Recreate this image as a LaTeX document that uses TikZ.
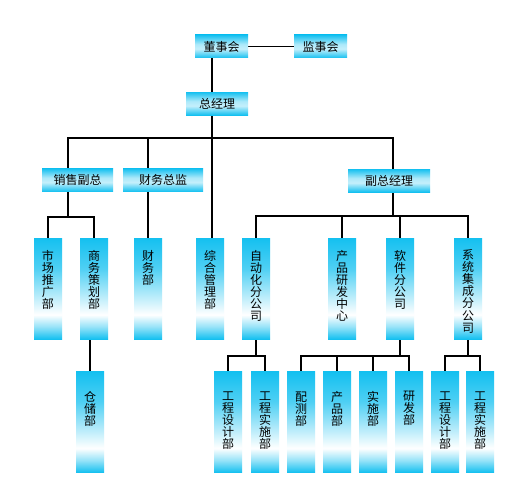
\documentclass[tikz,border=0pt]{standalone}
\usepackage{fontspec}
\setmainfont{Noto Sans CJK SC}
\usepackage{xcolor}
\usepackage{tikz}
\usetikzlibrary{backgrounds}

\definecolor{cy}{RGB}{20,192,240}
\pgfdeclareverticalshading{vshade}{100bp}{color(0bp)=(cy); color(25bp)=(cy); color(31bp)=(cy!45); color(37bp)=(white); color(60bp)=(cy!75); color(75bp)=(cy); color(100bp)=(cy)}
\pgfdeclareverticalshading{hshade}{100bp}{color(0bp)=(cy); color(25bp)=(cy); color(45bp)=(cy!25); color(55bp)=(cy!35); color(75bp)=(cy); color(100bp)=(cy)}
\newcommand{\vtxt}[2][12pt]{\parbox[c][101pt][t]{28pt}{\centering\vspace*{#1}#2}}

\begin{document}
\begin{tikzpicture}[x=1pt,y=-1pt,
  every node/.style={font=\fontsize{12}{12}\selectfont,inner sep=0pt},
  hbox/.style={shading=hshade,minimum height=23pt},
  vbox/.style={shading=vshade},
  conn/.style={line width=1.1pt}]
  \useasboundingbox (0,0) rectangle (519,503);
  \node[hbox,minimum width=53pt] (dongshi) at (221.5,46.5) {董事会};
  \node[hbox,minimum width=53pt] (jianshi) at (320.5,46.5) {监事会};
  \node[hbox,minimum width=62pt] (zong) at (217,103.5) {总经理};
  \node[hbox,minimum width=71pt] (xiaoshou) at (77.5,180) {销售副总};
  \node[hbox,minimum width=80pt] (caiwu) at (163,180) {财务总监};
  \node[hbox,minimum width=82pt] (fuzong) at (389,180.5) {副总经理};

  \node[vbox] (shichang) at (48,288.5) {\vtxt{市\\场\\推\\广\\部}};
  \node[vbox] (shangwu) at (94,288.5) {\vtxt{商\\务\\策\\划\\部}};
  \node[vbox] (caiwubu) at (148,288.5) {\vtxt{财\\务\\部}};
  \node[vbox] (zonghe) at (210,288.5) {\vtxt{综\\合\\管\\理\\部}};
  \node[vbox] (zidong) at (256,288.5) {\vtxt{自\\动\\化\\分\\公\\司}};
  \node[vbox] (chanpin) at (342,288.5) {\vtxt{产\\品\\研\\发\\中\\心}};
  \node[vbox] (ruanjian) at (400,288.5) {\vtxt{软\\件\\分\\公\\司}};
  \node[vbox] (xitong) at (468,288.5) {\vtxt{系\\统\\集\\成\\分\\公\\司}};

  \node[vbox] (cangchu) at (90,422) {\vtxt[20pt]{仓\\储\\部}};
  \node[vbox] (gcsj1) at (228,422) {\vtxt[20pt]{工\\程\\设\\计\\部}};
  \node[vbox] (gcss1) at (265,422) {\vtxt[20pt]{工\\程\\实\\施\\部}};
  \node[vbox] (peice) at (301,422) {\vtxt[20pt]{配\\测\\部}};
  \node[vbox] (chanpinbu) at (337,422) {\vtxt[20pt]{产\\品\\部}};
  \node[vbox] (shishi) at (373,422) {\vtxt[20pt]{实\\施\\部}};
  \node[vbox] (yanfa) at (409,422) {\vtxt[20pt]{研\\发\\部}};
  \node[vbox] (gcsj2) at (445,422) {\vtxt[20pt]{工\\程\\设\\计\\部}};
  \node[vbox] (gcss2) at (480,422) {\vtxt[20pt]{工\\程\\实\\施\\部}};

  \coordinate (bus) at (212,138);
  \coordinate (xsdrop) at (68,217);
  \coordinate (fzdrop) at (393,216);
  \coordinate (lowbus) at (0,356);

  \begin{scope}[on background layer]
    \fill[white] (0,0) rectangle (519,503);
    \draw[conn] (dongshi) -- (jianshi);
    \draw[conn] (bus |- dongshi) -- (bus);
    \draw[conn] (xsdrop) |- (bus) -| (fzdrop);
    \draw[conn] (shichang) |- (xsdrop) -| (shangwu);
    \draw[conn] (caiwubu) -- (caiwubu |- bus);
    \draw[conn] (bus) -- (bus |- zonghe);
    \draw[conn] (zidong) |- (fzdrop) -| (xitong);
    \draw[conn] (chanpin) -- (chanpin |- fzdrop);
    \draw[conn] (ruanjian) -- (ruanjian |- fzdrop);
    \draw[conn] (cangchu) -- (cangchu |- shangwu);
    \draw[conn] (zidong) -- (zidong |- lowbus);
    \draw[conn] (gcsj1) |- (zidong |- lowbus) -| (gcss1);
    \draw[conn] (ruanjian) -- (ruanjian |- lowbus);
    \draw[conn] (peice) |- (ruanjian |- lowbus) -| (yanfa);
    \draw[conn] (chanpinbu) -- (chanpinbu |- lowbus);
    \draw[conn] (shishi) -- (shishi |- lowbus);
    \draw[conn] (xitong) -- (xitong |- lowbus);
    \draw[conn] (gcsj2) |- (xitong |- lowbus) -| (gcss2);
  \end{scope}
\end{tikzpicture}
\end{document}
